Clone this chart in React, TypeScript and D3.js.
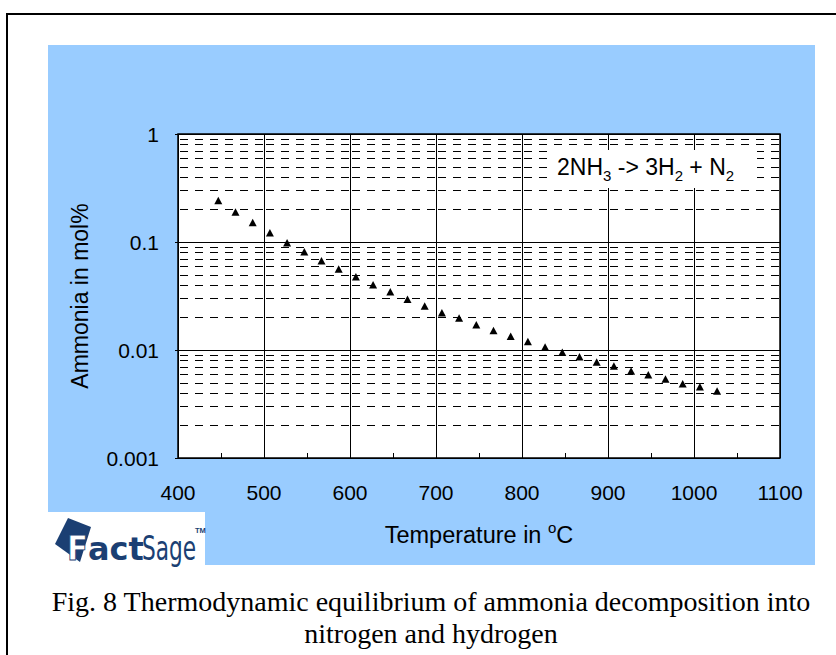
import { scaleLinear, scaleLog, select, range } from "d3";
import { useEffect, useRef } from "react";

// temperatures in °C (720 K ... 1300 K every 20 K)
const temps = [
  446.85, 466.85, 486.85, 506.85, 526.85, 546.85, 566.85, 586.85, 606.85,
  626.85, 646.85, 666.85, 686.85, 706.85, 726.85, 746.85, 766.85, 786.85,
  806.85, 826.85, 846.85, 866.85, 886.85, 906.85, 926.85, 946.85, 966.85,
  986.85, 1006.85, 1026.85,
];
// equilibrium ammonia in mol%
const ammonia = [
  0.238, 0.187, 0.149, 0.12, 0.097, 0.0801, 0.0661, 0.0554, 0.047, 0.0396,
  0.034, 0.029, 0.0252, 0.0218, 0.0195, 0.0169, 0.0149, 0.0132, 0.0118,
  0.0105, 0.0094, 0.0085, 0.0076, 0.007, 0.0063, 0.0058, 0.0053, 0.0048,
  0.0045, 0.0041,
];
const xTicks = [400, 500, 600, 700, 800, 900, 1000, 1100];
const xMinor = [450, 550, 650, 750, 850, 950, 1050];
const yTicks = [1, 0.1, 0.01, 0.001];
const yTickLabels = ["1", "0.1", "0.01", "0.001"];

const W = 836;
const H = 655;
const margin = { left: 178, right: 780, top: 134, bottom: 458 };
const SANS = "'Liberation Sans', Arial, sans-serif";
const NAVY = "#1B3F73";

export default function App() {
  const svgRef = useRef<SVGSVGElement>(null);

  useEffect(() => {
    const svg = select(svgRef.current);
    svg.selectAll("*").remove();

    const x = scaleLinear().domain([400, 1100]).range([margin.left, margin.right]);
    const y = scaleLog().domain([0.001, 1]).range([margin.bottom, margin.top]);

    // outer frame
    svg
      .append("rect")
      .attr("x", 7)
      .attr("y", 14)
      .attr("width", W + 10)
      .attr("height", H + 10)
      .attr("fill", "#fff")
      .attr("stroke", "#000")
      .attr("stroke-width", 2);

    // blue chart area
    svg
      .append("rect")
      .attr("x", 48)
      .attr("y", 45)
      .attr("width", 767)
      .attr("height", 520)
      .attr("fill", "#99CCFF");

    // plot background
    svg
      .append("rect")
      .attr("x", x(400))
      .attr("y", y(1))
      .attr("width", x(1100) - x(400))
      .attr("height", y(0.001) - y(1))
      .attr("fill", "#fff");

    // minor horizontal dashed grid, drawn per column
    const minorVals: number[] = [];
    [0.001, 0.01, 0.1].forEach((d) => range(2, 10).forEach((m) => minorVals.push(d * m)));
    const cells = xTicks.slice(0, -1);
    const grid = svg.append("g");
    minorVals.forEach((v) => {
      cells.forEach((c) => {
        grid
          .append("line")
          .attr("x1", x(c) - 2)
          .attr("x2", x(c + 100))
          .attr("y1", Math.round(y(v)) + 0.5)
          .attr("y2", Math.round(y(v)) + 0.5)
          .attr("stroke", "#000")
          .attr("stroke-width", 1)
          .attr("stroke-dasharray", "8,7")
          .attr("stroke-dashoffset", -4);
      });
    });

    // major horizontal lines
    yTicks.forEach((v) => {
      grid
        .append("line")
        .attr("x1", x(400) - 3)
        .attr("x2", x(1100))
        .attr("y1", Math.round(y(v)) + 0.5)
        .attr("y2", Math.round(y(v)) + 0.5)
        .attr("stroke", "#000")
        .attr("stroke-width", 1);
    });

    // vertical lines
    xTicks.forEach((t) => {
      grid
        .append("line")
        .attr("x1", Math.round(x(t)) + 0.5)
        .attr("x2", Math.round(x(t)) + 0.5)
        .attr("y1", y(1))
        .attr("y2", y(0.001))
        .attr("stroke", "#000")
        .attr("stroke-width", 1);
    });

    // minor x ticks
    xMinor.forEach((t) => {
      grid
        .append("line")
        .attr("x1", Math.round(x(t)) + 0.5)
        .attr("x2", Math.round(x(t)) + 0.5)
        .attr("y1", y(0.001))
        .attr("y2", y(0.001) - 5)
        .attr("stroke", "#000");
    });

    // frame
    svg
      .append("rect")
      .attr("x", x(400))
      .attr("y", y(1))
      .attr("width", x(1100) - x(400))
      .attr("height", y(0.001) - y(1))
      .attr("fill", "none")
      .attr("stroke", "#000")
      .attr("stroke-width", 1.5);

    // legend
    svg
      .append("rect")
      .attr("x", 547)
      .attr("y", 150)
      .attr("width", 210)
      .attr("height", 38)
      .attr("fill", "#fff");
    const leg = svg
      .append("text")
      .attr("x", 557)
      .attr("y", 175)
      .attr("font-family", SANS)
      .attr("font-size", 23)
      .attr("fill", "#000");
    const parts: [string, boolean][] = [
      ["2NH", false],
      ["3", true],
      [" -> 3H", false],
      ["2", true],
      [" + N", false],
      ["2", true],
    ];
    let shifted = false;
    parts.forEach(([t, sub]) => {
      const dy = sub ? 6 : shifted ? -6 : 0;
      shifted = sub;
      leg
        .append("tspan")
        .attr("font-size", sub ? 15 : 23)
        .attr("dy", dy)
        .text(t);
    });

    // points
    const tri = "M0,-4.5L4,3L-4,3Z";
    svg
      .append("g")
      .selectAll("path")
      .data(temps.map((t, i) => [t, ammonia[i]]))
      .join("path")
      .attr("d", tri)
      .attr("transform", (d) => `translate(${x(d[0])},${y(d[1])})`)
      .attr("fill", "#000");

    // y tick labels
    svg
      .append("g")
      .selectAll("text")
      .data(yTicks)
      .join("text")
      .attr("x", 159)
      .attr("y", (d) => y(d) + 7.5)
      .attr("text-anchor", "end")
      .attr("font-family", SANS)
      .attr("font-size", 21)
      .text((d, i) => yTickLabels[i]);

    // x tick labels
    svg
      .append("g")
      .selectAll("text")
      .data(xTicks)
      .join("text")
      .attr("x", (d) => x(d))
      .attr("y", 500)
      .attr("text-anchor", "middle")
      .attr("font-family", SANS)
      .attr("font-size", 21)
      .text((d) => String(d));

    // x title
    const xt = svg
      .append("text")
      .attr("x", 479)
      .attr("y", 543)
      .attr("text-anchor", "middle")
      .attr("font-family", SANS)
      .attr("font-size", 23.5);
    xt.append("tspan").text("Temperature in ");
    xt.append("tspan").attr("font-size", 15).attr("dy", -10).text("o");
    xt.append("tspan").attr("dy", 10).text("C");

    // y title
    svg
      .append("text")
      .attr("transform", `translate(88,${(y(1) + y(0.001)) / 2}) rotate(-90)`)
      .attr("text-anchor", "middle")
      .attr("font-family", SANS)
      .attr("font-size", 23)
      .text("Ammonia in mol%");

    // FactSage logo
    const logo = svg.append("g");
    logo
      .append("rect")
      .attr("x", 48)
      .attr("y", 512)
      .attr("width", 157)
      .attr("height", 54)
      .attr("fill", "#fff");
    logo
      .append("path")
      .attr("d", "M68,518L91,527L80,562L55,544Z")
      .attr("fill", NAVY);
    const fact = logo
      .append("text")
      .attr("y", 560)
      .attr("font-family", "'DejaVu Sans Condensed', 'DejaVu Sans', sans-serif")
      .attr("font-weight", "bold");
    fact
      .append("tspan")
      .attr("x", 67)
      .attr("font-size", 34)
      .attr("fill", "#fff")
      .attr("stroke", NAVY)
      .attr("stroke-width", 0.8)
      .text("F");
    fact
      .append("tspan")
      .attr("x", 88)
      .attr("font-size", 32)
      .attr("font-family", "'DejaVu Sans', sans-serif")
      .attr("fill", NAVY)
      .text("act");
    logo
      .append("text")
      .attr("transform", "translate(142,560) scale(0.73,1)")
      .attr("font-family", "'DejaVu Sans Condensed', 'DejaVu Sans', sans-serif")
      .attr("font-size", 33)
      .attr("fill", NAVY)
      .text("Sage");
    logo
      .append("text")
      .attr("x", 195)
      .attr("y", 533)
      .attr("font-family", SANS)
      .attr("font-size", 7.5)
      .attr("font-weight", "bold")
      .attr("fill", NAVY)
      .text("TM");

    // caption
    const cap = ["Fig. 8 Thermodynamic equilibrium of ammonia decomposition into", "nitrogen and hydrogen"];
    svg
      .append("g")
      .selectAll("text")
      .data(cap)
      .join("text")
      .attr("x", 431)
      .attr("y", (d, i) => 611 + i * 32)
      .attr("text-anchor", "middle")
      .attr("font-family", "'Liberation Serif', 'Times New Roman', serif")
      .attr("font-size", 28)
      .text((d) => d);
  }, []);

  return (
    <div style={{ position: "absolute", left: 0, top: 0 }}>
      <svg ref={svgRef} width={W} height={H}></svg>
    </div>
  );
}
